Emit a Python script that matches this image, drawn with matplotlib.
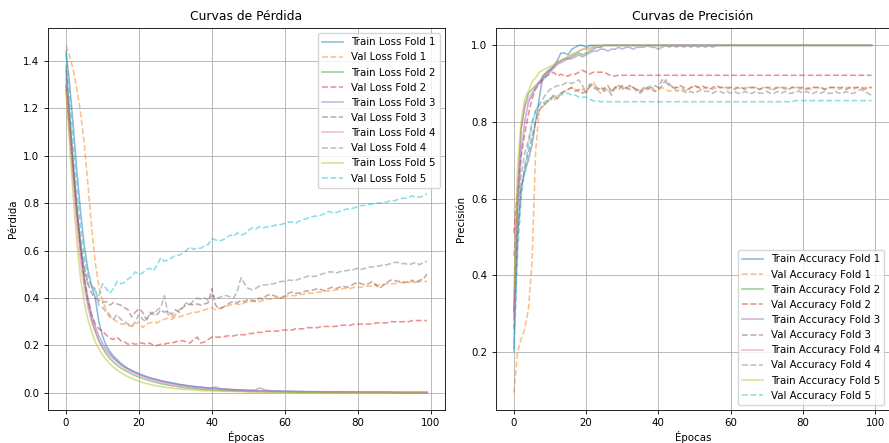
import numpy as np
import matplotlib
matplotlib.use("Agg")
import matplotlib.pyplot as plt

# Curvas de entrenamiento por fold (5 folds, 100 epocas)
epochs = list(range(100))

train_loss_f1 = [1.44, 1.30, 1.12, 0.93, 0.76, 0.62, 0.52, 0.45, 0.40, 0.30,
                 0.24, 0.20, 0.175, 0.155, 0.14, 0.125, 0.113, 0.103, 0.095, 0.088,
                 0.081, 0.075, 0.069, 0.064, 0.060, 0.056, 0.052, 0.048, 0.045, 0.042,
                 0.039, 0.036, 0.034, 0.031, 0.029, 0.027, 0.025, 0.024, 0.022, 0.021,
                 0.020, 0.019, 0.017, 0.016, 0.015, 0.014, 0.013, 0.012, 0.012, 0.011,
                 0.010, 0.010, 0.009, 0.009, 0.008, 0.008, 0.008, 0.007, 0.007, 0.007,
                 0.006, 0.006, 0.006, 0.006, 0.005, 0.005, 0.005, 0.005, 0.005, 0.004,
                 0.004, 0.004, 0.004, 0.004, 0.004, 0.004, 0.004, 0.003, 0.003, 0.003,
                 0.003, 0.003, 0.003, 0.003, 0.003, 0.003, 0.003, 0.003, 0.002, 0.002,
                 0.002, 0.002, 0.002, 0.002, 0.002, 0.002, 0.002, 0.002, 0.002, 0.002]
val_loss_f1 = [1.465, 1.42, 1.36, 1.28, 1.18, 1.05, 0.88, 0.70, 0.55, 0.45,
               0.39, 0.35, 0.33, 0.31, 0.30, 0.29, 0.29, 0.285, 0.28, 0.29,
               0.30, 0.275, 0.29, 0.295, 0.30, 0.295, 0.305, 0.31, 0.315, 0.31,
               0.32, 0.32, 0.325, 0.33, 0.335, 0.34, 0.34, 0.345, 0.35, 0.355,
               0.36, 0.35, 0.355, 0.36, 0.365, 0.37, 0.375, 0.375, 0.37, 0.38,
               0.385, 0.385, 0.39, 0.385, 0.39, 0.395, 0.395, 0.40, 0.40, 0.40,
               0.405, 0.41, 0.41, 0.41, 0.415, 0.415, 0.42, 0.42, 0.42, 0.425,
               0.425, 0.43, 0.43, 0.43, 0.435, 0.435, 0.44, 0.44, 0.44, 0.445,
               0.445, 0.445, 0.45, 0.45, 0.45, 0.455, 0.455, 0.455, 0.46, 0.46,
               0.46, 0.465, 0.465, 0.465, 0.465, 0.47, 0.47, 0.47, 0.47, 0.47]
train_loss_f2 = [1.38, 1.16, 0.95, 0.76, 0.60, 0.47, 0.38, 0.31, 0.26, 0.22,
                 0.19, 0.165, 0.145, 0.13, 0.117, 0.105, 0.096, 0.088, 0.080, 0.073,
                 0.067, 0.061, 0.056, 0.051, 0.047, 0.043, 0.039, 0.036, 0.033, 0.030,
                 0.028, 0.025, 0.023, 0.021, 0.020, 0.018, 0.017, 0.015, 0.014, 0.013,
                 0.012, 0.011, 0.011, 0.010, 0.009, 0.009, 0.008, 0.008, 0.007, 0.007,
                 0.006, 0.006, 0.006, 0.005, 0.005, 0.005, 0.005, 0.004, 0.004, 0.004,
                 0.004, 0.004, 0.003, 0.003, 0.003, 0.003, 0.003, 0.003, 0.003, 0.003,
                 0.002, 0.002, 0.002, 0.002, 0.002, 0.002, 0.002, 0.002, 0.002, 0.002,
                 0.002, 0.002, 0.002, 0.002, 0.002, 0.002, 0.002, 0.002, 0.002, 0.002,
                 0.002, 0.001, 0.001, 0.001, 0.001, 0.001, 0.001, 0.001, 0.001, 0.001]
val_loss_f2 = [1.30, 1.12, 0.93, 0.75, 0.60, 0.48, 0.39, 0.33, 0.29, 0.27,
               0.26, 0.245, 0.23, 0.225, 0.235, 0.22, 0.215, 0.205, 0.21, 0.205,
               0.21, 0.21, 0.205, 0.21, 0.20, 0.20, 0.205, 0.205, 0.21, 0.21,
               0.215, 0.22, 0.22, 0.215, 0.21, 0.225, 0.235, 0.21, 0.215, 0.225,
               0.235, 0.235, 0.235, 0.235, 0.24, 0.24, 0.24, 0.245, 0.245, 0.245,
               0.25, 0.25, 0.255, 0.255, 0.255, 0.26, 0.26, 0.26, 0.26, 0.265,
               0.265, 0.265, 0.265, 0.27, 0.27, 0.27, 0.275, 0.275, 0.275, 0.275,
               0.28, 0.28, 0.28, 0.28, 0.28, 0.285, 0.285, 0.285, 0.285, 0.29,
               0.29, 0.29, 0.29, 0.29, 0.29, 0.295, 0.295, 0.295, 0.295, 0.30,
               0.30, 0.30, 0.30, 0.30, 0.30, 0.305, 0.305, 0.305, 0.305, 0.305]
train_loss_f3 = [1.36, 1.17, 0.97, 0.78, 0.62, 0.49, 0.40, 0.33, 0.28, 0.24,
                 0.21, 0.185, 0.165, 0.148, 0.133, 0.12, 0.109, 0.10, 0.092, 0.085,
                 0.078, 0.072, 0.067, 0.062, 0.058, 0.054, 0.050, 0.047, 0.044, 0.041,
                 0.038, 0.035, 0.033, 0.031, 0.029, 0.027, 0.025, 0.024, 0.022, 0.021,
                 0.020, 0.025, 0.019, 0.017, 0.016, 0.015, 0.014, 0.013, 0.013, 0.012,
                 0.011, 0.011, 0.012, 0.021, 0.016, 0.011, 0.009, 0.008, 0.008, 0.007,
                 0.007, 0.007, 0.006, 0.006, 0.006, 0.006, 0.005, 0.005, 0.005, 0.005,
                 0.005, 0.004, 0.004, 0.004, 0.004, 0.004, 0.004, 0.004, 0.003, 0.003,
                 0.003, 0.003, 0.003, 0.003, 0.003, 0.003, 0.003, 0.003, 0.003, 0.003,
                 0.002, 0.002, 0.002, 0.002, 0.002, 0.002, 0.002, 0.002, 0.002, 0.002]
val_loss_f3 = [1.28, 1.10, 0.92, 0.76, 0.63, 0.53, 0.46, 0.42, 0.40, 0.39,
               0.38, 0.385, 0.37, 0.38, 0.375, 0.37, 0.36, 0.35, 0.32, 0.34,
               0.355, 0.34, 0.31, 0.33, 0.34, 0.33, 0.35, 0.34, 0.345, 0.33,
               0.35, 0.34, 0.36, 0.37, 0.375, 0.37, 0.375, 0.37, 0.375, 0.38,
               0.44, 0.37, 0.355, 0.36, 0.37, 0.38, 0.385, 0.38, 0.39, 0.385,
               0.395, 0.39, 0.385, 0.40, 0.395, 0.41, 0.415, 0.41, 0.405, 0.40,
               0.41, 0.42, 0.425, 0.42, 0.42, 0.425, 0.43, 0.43, 0.435, 0.44,
               0.435, 0.43, 0.44, 0.445, 0.44, 0.445, 0.45, 0.445, 0.45, 0.46,
               0.465, 0.46, 0.455, 0.46, 0.47, 0.455, 0.44, 0.455, 0.465, 0.475,
               0.475, 0.47, 0.47, 0.465, 0.47, 0.475, 0.46, 0.475, 0.48, 0.50]
train_loss_f4 = [1.30, 1.08, 0.88, 0.70, 0.55, 0.44, 0.36, 0.30, 0.26, 0.22,
                 0.195, 0.175, 0.158, 0.143, 0.13, 0.118, 0.107, 0.098, 0.090, 0.083,
                 0.076, 0.070, 0.064, 0.059, 0.054, 0.050, 0.046, 0.042, 0.039, 0.036,
                 0.033, 0.031, 0.029, 0.027, 0.025, 0.023, 0.022, 0.020, 0.019, 0.018,
                 0.017, 0.016, 0.015, 0.014, 0.013, 0.012, 0.012, 0.011, 0.010, 0.010,
                 0.009, 0.009, 0.008, 0.008, 0.008, 0.007, 0.007, 0.007, 0.006, 0.006,
                 0.006, 0.006, 0.005, 0.005, 0.005, 0.005, 0.005, 0.004, 0.004, 0.004,
                 0.004, 0.004, 0.004, 0.004, 0.003, 0.003, 0.003, 0.003, 0.003, 0.003,
                 0.003, 0.003, 0.003, 0.003, 0.003, 0.002, 0.002, 0.002, 0.002, 0.002,
                 0.002, 0.002, 0.002, 0.002, 0.002, 0.002, 0.002, 0.002, 0.002, 0.002]
val_loss_f4 = [1.33, 1.14, 0.95, 0.77, 0.62, 0.51, 0.46, 0.45, 0.44, 0.37,
               0.36, 0.34, 0.32, 0.31, 0.33, 0.31, 0.30, 0.29, 0.28, 0.30,
               0.33, 0.31, 0.30, 0.34, 0.33, 0.35, 0.36, 0.41, 0.33, 0.32,
               0.33, 0.35, 0.36, 0.38, 0.37, 0.39, 0.40, 0.395, 0.40, 0.39,
               0.41, 0.405, 0.40, 0.41, 0.41, 0.405, 0.40, 0.43, 0.485, 0.46,
               0.44, 0.435, 0.44, 0.45, 0.455, 0.455, 0.46, 0.46, 0.465, 0.47,
               0.47, 0.475, 0.475, 0.475, 0.48, 0.485, 0.49, 0.495, 0.49, 0.495,
               0.50, 0.505, 0.51, 0.51, 0.505, 0.51, 0.515, 0.515, 0.52, 0.52,
               0.525, 0.52, 0.525, 0.53, 0.53, 0.535, 0.535, 0.54, 0.54, 0.545,
               0.55, 0.55, 0.545, 0.545, 0.54, 0.545, 0.55, 0.54, 0.55, 0.555]
train_loss_f5 = [1.27, 1.04, 0.82, 0.63, 0.48, 0.38, 0.31, 0.26, 0.215, 0.185,
                 0.16, 0.14, 0.123, 0.108, 0.096, 0.085, 0.076, 0.068, 0.061, 0.055,
                 0.049, 0.044, 0.040, 0.036, 0.032, 0.029, 0.026, 0.024, 0.022, 0.020,
                 0.018, 0.016, 0.015, 0.014, 0.013, 0.012, 0.011, 0.010, 0.009, 0.009,
                 0.008, 0.008, 0.007, 0.007, 0.006, 0.006, 0.006, 0.005, 0.005, 0.005,
                 0.004, 0.004, 0.004, 0.004, 0.004, 0.003, 0.003, 0.003, 0.003, 0.003,
                 0.003, 0.003, 0.002, 0.002, 0.002, 0.002, 0.002, 0.002, 0.002, 0.002,
                 0.002, 0.002, 0.002, 0.002, 0.002, 0.001, 0.001, 0.001, 0.001, 0.001,
                 0.001, 0.001, 0.001, 0.001, 0.001, 0.001, 0.001, 0.001, 0.001, 0.001,
                 0.001, 0.001, 0.001, 0.001, 0.001, 0.001, 0.001, 0.001, 0.001, 0.001]
val_loss_f5 = [1.43, 1.25, 1.05, 0.86, 0.69, 0.57, 0.49, 0.45, 0.43, 0.41,
               0.46, 0.44, 0.42, 0.44, 0.47, 0.46, 0.465, 0.48, 0.49, 0.51,
               0.50, 0.505, 0.52, 0.525, 0.515, 0.54, 0.57, 0.555, 0.56, 0.57,
               0.58, 0.58, 0.59, 0.60, 0.615, 0.605, 0.61, 0.61, 0.62, 0.625,
               0.65, 0.645, 0.64, 0.645, 0.655, 0.665, 0.66, 0.675, 0.665, 0.67,
               0.685, 0.695, 0.69, 0.70, 0.695, 0.70, 0.70, 0.705, 0.71, 0.71,
               0.715, 0.72, 0.72, 0.715, 0.725, 0.73, 0.735, 0.74, 0.745, 0.745,
               0.75, 0.755, 0.765, 0.76, 0.76, 0.765, 0.77, 0.775, 0.775, 0.78,
               0.785, 0.79, 0.79, 0.795, 0.795, 0.80, 0.80, 0.80, 0.805, 0.81,
               0.81, 0.815, 0.82, 0.82, 0.825, 0.83, 0.825, 0.825, 0.83, 0.84]

train_acc_f1 = [0.21, 0.50, 0.63, 0.67, 0.70, 0.74, 0.80, 0.86, 0.92, 0.93,
                0.935, 0.945, 0.96, 0.98, 0.98, 0.975, 0.99, 0.995, 1.0, 1.0,
                0.995, 1.0, 1.0, 1.0, 1.0, 1.0, 1.0, 1.0, 1.0, 1.0,
                1.0, 1.0, 1.0, 1.0, 1.0, 1.0, 1.0, 1.0, 1.0, 1.0,
                1.0, 1.0, 1.0, 1.0, 1.0, 1.0, 1.0, 1.0, 1.0, 1.0,
                1.0, 1.0, 1.0, 1.0, 1.0, 1.0, 1.0, 1.0, 1.0, 1.0,
                1.0, 1.0, 1.0, 1.0, 1.0, 1.0, 1.0, 1.0, 1.0, 1.0,
                1.0, 1.0, 1.0, 1.0, 1.0, 1.0, 1.0, 1.0, 1.0, 1.0,
                1.0, 1.0, 1.0, 1.0, 1.0, 1.0, 1.0, 1.0, 1.0, 1.0,
                1.0, 1.0, 1.0, 1.0, 1.0, 1.0, 1.0, 1.0, 1.0, 1.0]
val_acc_f1 = [0.094, 0.198, 0.233, 0.26, 0.31, 0.43, 0.72, 0.83, 0.84, 0.85,
              0.86, 0.855, 0.87, 0.875, 0.88, 0.885, 0.89, 0.885, 0.88, 0.885,
              0.88, 0.89, 0.905, 0.885, 0.875, 0.89, 0.885, 0.88, 0.89, 0.895,
              0.885, 0.89, 0.895, 0.89, 0.885, 0.88, 0.885, 0.89, 0.885, 0.88,
              0.885, 0.89, 0.885, 0.88, 0.885, 0.89, 0.89, 0.885, 0.88, 0.89,
              0.895, 0.89, 0.885, 0.89, 0.89, 0.885, 0.89, 0.89, 0.89, 0.885,
              0.89, 0.89, 0.89, 0.885, 0.89, 0.89, 0.89, 0.89, 0.885, 0.89,
              0.89, 0.885, 0.89, 0.89, 0.89, 0.885, 0.89, 0.89, 0.89, 0.885,
              0.89, 0.89, 0.885, 0.89, 0.89, 0.89, 0.885, 0.89, 0.89, 0.89,
              0.885, 0.89, 0.89, 0.89, 0.885, 0.89, 0.89, 0.89, 0.89, 0.89]
train_acc_f2 = [0.30, 0.60, 0.78, 0.84, 0.875, 0.885, 0.895, 0.905, 0.915, 0.925,
                0.935, 0.945, 0.955, 0.96, 0.965, 0.965, 0.97, 0.975, 0.98, 0.975,
                0.98, 0.985, 0.99, 0.995, 0.995, 1.0, 1.0, 1.0, 1.0, 1.0,
                1.0, 1.0, 1.0, 1.0, 1.0, 1.0, 1.0, 1.0, 1.0, 1.0,
                1.0, 1.0, 1.0, 1.0, 1.0, 1.0, 1.0, 1.0, 1.0, 1.0,
                1.0, 1.0, 1.0, 1.0, 1.0, 1.0, 1.0, 1.0, 1.0, 1.0,
                1.0, 1.0, 1.0, 1.0, 1.0, 1.0, 1.0, 1.0, 1.0, 1.0,
                1.0, 1.0, 1.0, 1.0, 1.0, 1.0, 1.0, 1.0, 1.0, 1.0,
                1.0, 1.0, 1.0, 1.0, 1.0, 1.0, 1.0, 1.0, 1.0, 1.0,
                1.0, 1.0, 1.0, 1.0, 1.0, 1.0, 1.0, 1.0, 1.0, 1.0]
val_acc_f2 = [0.51, 0.62, 0.71, 0.77, 0.82, 0.86, 0.885, 0.90, 0.91, 0.92,
              0.925, 0.93, 0.92, 0.925, 0.92, 0.92, 0.925, 0.925, 0.93, 0.935,
              0.93, 0.925, 0.93, 0.93, 0.93, 0.93, 0.925, 0.92, 0.92, 0.922,
              0.922, 0.922, 0.922, 0.922, 0.922, 0.922, 0.922, 0.922, 0.922, 0.922,
              0.922, 0.922, 0.922, 0.922, 0.922, 0.922, 0.922, 0.922, 0.922, 0.922,
              0.922, 0.922, 0.922, 0.922, 0.922, 0.922, 0.922, 0.922, 0.922, 0.922,
              0.922, 0.922, 0.922, 0.922, 0.922, 0.922, 0.922, 0.922, 0.922, 0.922,
              0.922, 0.922, 0.922, 0.922, 0.922, 0.922, 0.922, 0.922, 0.922, 0.922,
              0.922, 0.922, 0.922, 0.922, 0.922, 0.922, 0.922, 0.922, 0.922, 0.922,
              0.922, 0.922, 0.922, 0.922, 0.922, 0.922, 0.922, 0.922, 0.922, 0.922]
train_acc_f3 = [0.31, 0.56, 0.72, 0.80, 0.85, 0.87, 0.89, 0.90, 0.91, 0.92,
                0.93, 0.94, 0.95, 0.955, 0.96, 0.965, 0.965, 0.97, 0.975, 0.97,
                0.975, 0.98, 0.985, 0.985, 0.99, 0.99, 0.985, 0.99, 0.99, 0.995,
                0.99, 0.995, 0.995, 0.99, 0.995, 0.995, 0.995, 1.0, 0.995, 0.995,
                0.99, 0.995, 1.0, 0.995, 1.0, 0.995, 1.0, 0.995, 1.0, 0.995,
                1.0, 0.995, 1.0, 0.995, 1.0, 0.995, 1.0, 1.0, 1.0, 1.0,
                1.0, 1.0, 1.0, 1.0, 1.0, 1.0, 1.0, 1.0, 1.0, 1.0,
                1.0, 1.0, 1.0, 1.0, 1.0, 1.0, 1.0, 1.0, 1.0, 1.0,
                1.0, 1.0, 1.0, 1.0, 1.0, 1.0, 1.0, 1.0, 1.0, 1.0,
                1.0, 1.0, 1.0, 1.0, 1.0, 1.0, 1.0, 1.0, 1.0, 1.0]
val_acc_f3 = [0.26, 0.50, 0.62, 0.68, 0.72, 0.76, 0.80, 0.83, 0.845, 0.85,
              0.86, 0.87, 0.86, 0.875, 0.88, 0.885, 0.89, 0.88, 0.885, 0.875,
              0.88, 0.895, 0.89, 0.885, 0.89, 0.885, 0.895, 0.88, 0.89, 0.885,
              0.895, 0.89, 0.885, 0.89, 0.885, 0.88, 0.89, 0.885, 0.89, 0.895,
              0.89, 0.91, 0.905, 0.895, 0.89, 0.89, 0.895, 0.89, 0.885, 0.89,
              0.895, 0.89, 0.895, 0.89, 0.885, 0.89, 0.895, 0.89, 0.89, 0.89,
              0.89, 0.885, 0.89, 0.89, 0.885, 0.89, 0.89, 0.89, 0.885, 0.89,
              0.89, 0.89, 0.885, 0.89, 0.89, 0.89, 0.885, 0.89, 0.89, 0.89,
              0.89, 0.885, 0.89, 0.89, 0.89, 0.89, 0.885, 0.89, 0.89, 0.89,
              0.89, 0.89, 0.885, 0.89, 0.89, 0.89, 0.89, 0.885, 0.89, 0.89]
train_acc_f4 = [0.28, 0.62, 0.78, 0.84, 0.86, 0.875, 0.89, 0.905, 0.92, 0.93,
                0.94, 0.945, 0.955, 0.96, 0.965, 0.97, 0.975, 0.98, 0.985, 0.99,
                0.99, 0.99, 0.995, 0.995, 0.995, 1.0, 1.0, 1.0, 1.0, 1.0,
                1.0, 1.0, 1.0, 1.0, 1.0, 1.0, 1.0, 1.0, 1.0, 1.0,
                1.0, 1.0, 1.0, 1.0, 1.0, 1.0, 1.0, 1.0, 1.0, 1.0,
                1.0, 1.0, 1.0, 1.0, 1.0, 1.0, 1.0, 1.0, 1.0, 1.0,
                1.0, 1.0, 1.0, 1.0, 1.0, 1.0, 1.0, 1.0, 1.0, 1.0,
                1.0, 1.0, 1.0, 1.0, 1.0, 1.0, 1.0, 1.0, 1.0, 1.0,
                1.0, 1.0, 1.0, 1.0, 1.0, 1.0, 1.0, 1.0, 1.0, 1.0,
                1.0, 1.0, 1.0, 1.0, 1.0, 1.0, 1.0, 1.0, 1.0, 1.0]
val_acc_f4 = [0.45, 0.58, 0.66, 0.72, 0.75, 0.80, 0.83, 0.845, 0.86, 0.875,
              0.885, 0.89, 0.895, 0.895, 0.90, 0.905, 0.90, 0.905, 0.91, 0.895,
              0.875, 0.90, 0.895, 0.89, 0.885, 0.88, 0.885, 0.87, 0.89, 0.895,
              0.89, 0.885, 0.895, 0.89, 0.88, 0.875, 0.885, 0.89, 0.895, 0.88,
              0.885, 0.895, 0.91, 0.90, 0.89, 0.88, 0.885, 0.88, 0.875, 0.88,
              0.875, 0.88, 0.885, 0.88, 0.88, 0.875, 0.88, 0.88, 0.875, 0.88,
              0.875, 0.88, 0.875, 0.875, 0.88, 0.875, 0.875, 0.88, 0.875, 0.875,
              0.88, 0.875, 0.875, 0.88, 0.875, 0.88, 0.875, 0.875, 0.88, 0.88,
              0.875, 0.88, 0.875, 0.875, 0.88, 0.875, 0.88, 0.875, 0.875, 0.88,
              0.875, 0.875, 0.88, 0.875, 0.875, 0.88, 0.885, 0.88, 0.875, 0.87]
train_acc_f5 = [0.36, 0.68, 0.80, 0.86, 0.88, 0.905, 0.915, 0.93, 0.935, 0.94,
                0.945, 0.95, 0.955, 0.96, 0.965, 0.97, 0.975, 0.98, 0.985, 0.99,
                0.99, 0.995, 0.995, 1.0, 1.0, 1.0, 1.0, 1.0, 1.0, 1.0,
                1.0, 1.0, 1.0, 1.0, 1.0, 1.0, 1.0, 1.0, 1.0, 1.0,
                1.0, 1.0, 1.0, 1.0, 1.0, 1.0, 1.0, 1.0, 1.0, 1.0,
                1.0, 1.0, 1.0, 1.0, 1.0, 1.0, 1.0, 1.0, 1.0, 1.0,
                1.0, 1.0, 1.0, 1.0, 1.0, 1.0, 1.0, 1.0, 1.0, 1.0,
                1.0, 1.0, 1.0, 1.0, 1.0, 1.0, 1.0, 1.0, 1.0, 1.0,
                1.0, 1.0, 1.0, 1.0, 1.0, 1.0, 1.0, 1.0, 1.0, 1.0,
                1.0, 1.0, 1.0, 1.0, 1.0, 1.0, 1.0, 1.0, 1.0, 1.0]
val_acc_f5 = [0.20, 0.45, 0.60, 0.68, 0.74, 0.79, 0.83, 0.845, 0.85, 0.855,
              0.86, 0.865, 0.87, 0.87, 0.875, 0.875, 0.87, 0.87, 0.865, 0.865,
              0.865, 0.86, 0.855, 0.855, 0.853, 0.853, 0.853, 0.853, 0.853, 0.853,
              0.853, 0.853, 0.853, 0.853, 0.853, 0.853, 0.853, 0.853, 0.853, 0.853,
              0.853, 0.853, 0.853, 0.853, 0.853, 0.853, 0.853, 0.853, 0.853, 0.853,
              0.853, 0.853, 0.853, 0.853, 0.853, 0.853, 0.853, 0.853, 0.853, 0.853,
              0.853, 0.853, 0.853, 0.853, 0.853, 0.853, 0.853, 0.853, 0.853, 0.853,
              0.853, 0.853, 0.853, 0.853, 0.853, 0.853, 0.853, 0.853, 0.856, 0.856,
              0.856, 0.856, 0.856, 0.856, 0.856, 0.856, 0.856, 0.856, 0.856, 0.856,
              0.856, 0.856, 0.856, 0.856, 0.856, 0.856, 0.856, 0.856, 0.856, 0.856]

train_loss = [train_loss_f1, train_loss_f2, train_loss_f3, train_loss_f4, train_loss_f5]
val_loss = [val_loss_f1, val_loss_f2, val_loss_f3, val_loss_f4, val_loss_f5]
train_acc = [train_acc_f1, train_acc_f2, train_acc_f3, train_acc_f4, train_acc_f5]
val_acc = [val_acc_f1, val_acc_f2, val_acc_f3, val_acc_f4, val_acc_f5]

plt.rcParams['font.size'] = 7.4
plt.rcParams['axes.linewidth'] = 0.6
plt.rcParams['xtick.major.width'] = 0.6
plt.rcParams['ytick.major.width'] = 0.6
plt.rcParams['xtick.major.size'] = 2.6
plt.rcParams['ytick.major.size'] = 2.6
plt.rcParams['grid.linewidth'] = 0.6

fig = plt.figure(figsize=(8.89, 4.43), dpi=100)
ax1 = fig.add_axes([48/889, 33/443, 397/889, 382/443])
ax2 = fig.add_axes([496/889, 33/443, 393.5/889, 382/443])

lw = 1.15
for i in range(5):
    ax1.plot(epochs, train_loss[i], label='Train Loss Fold %d' % (i+1), alpha=0.5, lw=lw)
    ax1.plot(epochs, val_loss[i], '--', label='Val Loss Fold %d' % (i+1), alpha=0.5, lw=lw)
ax1.set_title("Curvas de Pérdida", fontsize=8.9)
ax1.set_xlabel("Épocas", labelpad=1.5)
ax1.set_ylabel("Pérdida")
ax1.legend(loc='upper right')
ax1.grid(True)

for i in range(5):
    ax2.plot(epochs, train_acc[i], label='Train Accuracy Fold %d' % (i+1), alpha=0.5, lw=lw)
    ax2.plot(epochs, val_acc[i], '--', label='Val Accuracy Fold %d' % (i+1), alpha=0.5, lw=lw)
ax2.set_title("Curvas de Precisión", fontsize=8.9)
ax2.set_xlabel("Épocas", labelpad=1.5)
ax2.set_ylabel("Precisión")
ax2.legend(loc='lower right')
ax2.grid(True)

fig.savefig("out.png", dpi=100)
